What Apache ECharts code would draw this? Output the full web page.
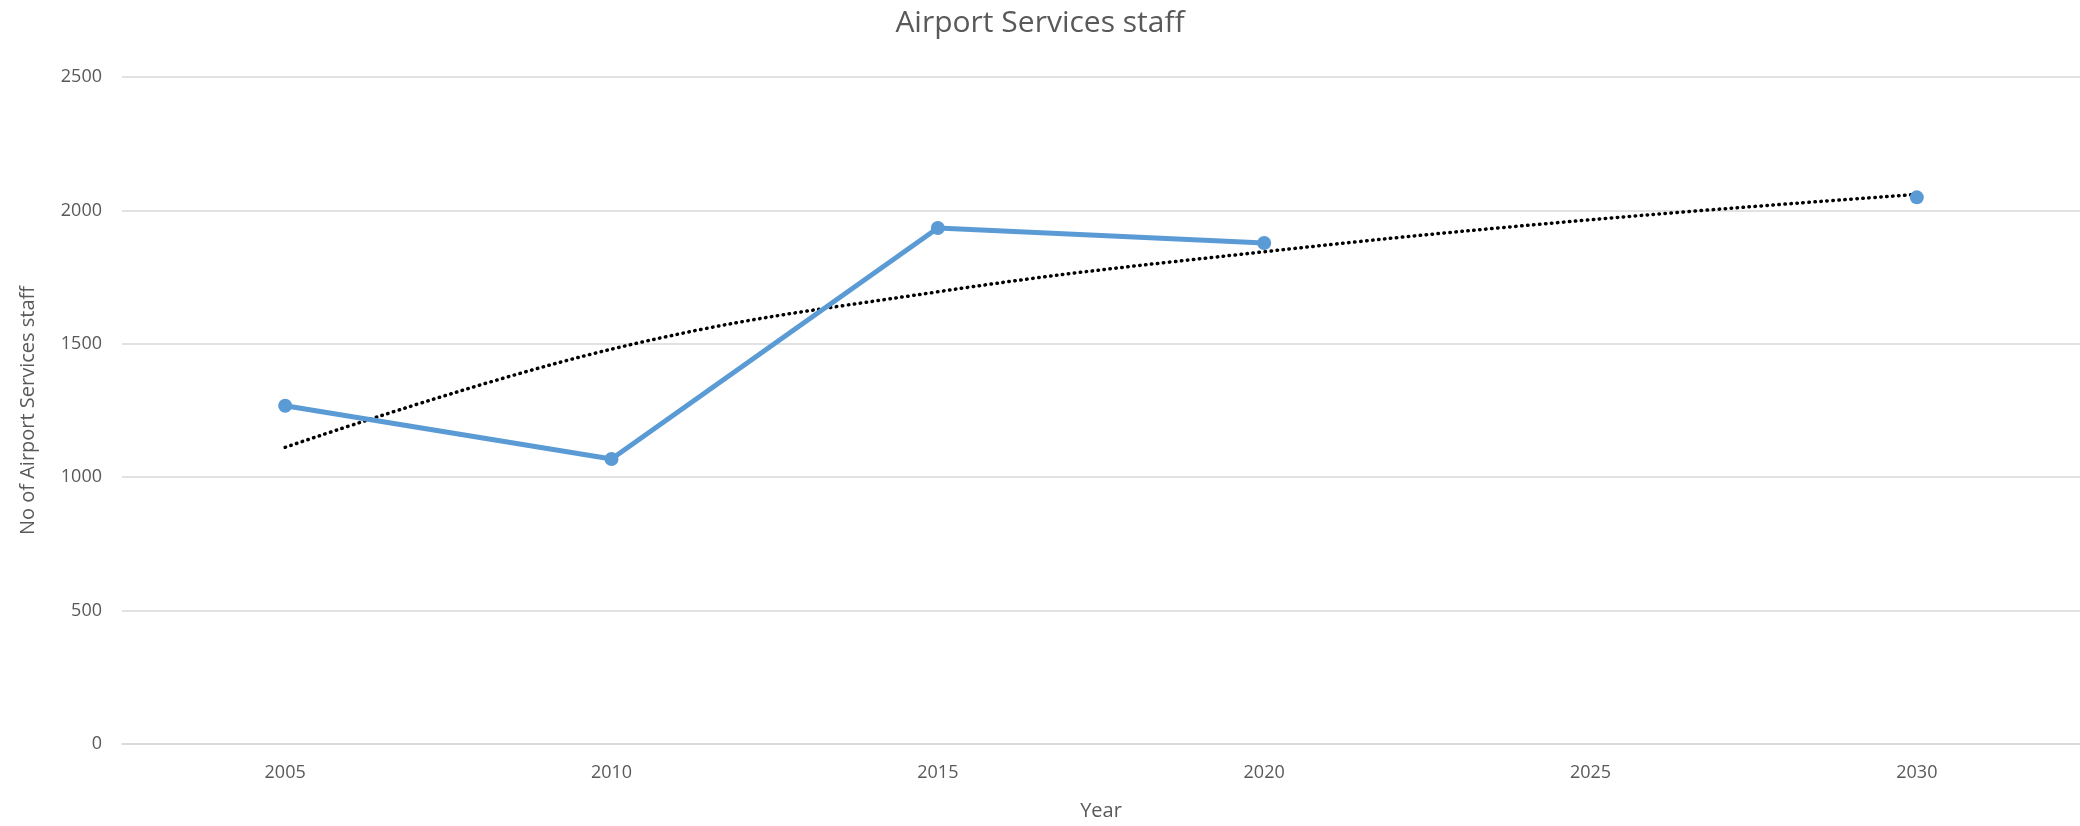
<!DOCTYPE html>
<html>
<head>
<meta charset="utf-8">
<script src="https://cdn.jsdelivr.net/npm/echarts@6/dist/echarts.min.js"></script>
<style>
  html, body { margin: 0; padding: 0; background: #fff; }
  #main { width: 2080px; height: 826px; }
</style>
</head>
<body>
<div id="main"></div>
<script>
var years = ['2005', '2010', '2015', '2020', '2025', '2030'];
// staff counts, 2025 has no value
var staff = [1268, 1068, 1934, 1878, null, 2049];
// dotted trend line (log trend)
var trend = [1112, 1480, 1695, 1845, 1965, 2060];
var yTicks = [0, 500, 1000, 1500, 2000, 2500];

var textColor = '#595959';
var gridColor = '#D9D9D9';
var font = '"Open Sans", sans-serif';

var myChart = echarts.init(document.getElementById('main'));
var option = {
	animation: false,
	backgroundColor: '#fff',
	title: {
		text: 'Airport Services staff',
		left: 'center',
		top: 3,
		textStyle: {
			color: textColor,
			fontSize: 30,
			fontWeight: 'normal',
			fontFamily: font
		}
	},
	grid: {
		left: 122,
		right: 0,
		top: 77,
		bottom: 82
	},
	xAxis: {
		type: 'category',
		data: years,
		boundaryGap: true,
		name: 'Year',
		nameLocation: 'middle',
		nameGap: 57,
		nameTextStyle: { color: textColor, fontSize: 20, fontFamily: font },
		axisLine: { lineStyle: { color: gridColor, width: 1.5 } },
		axisTick: { show: false },
		axisLabel: { color: textColor, fontSize: 18, fontFamily: font, margin: 20 }
	},
	yAxis: {
		type: 'value',
		min: yTicks[0],
		max: yTicks[yTicks.length - 1],
		interval: 500,
		name: 'No of Airport Services staff',
		nameLocation: 'middle',
		nameGap: 84,
		nameTextStyle: { color: textColor, fontSize: 20, fontFamily: font },
		axisLine: { show: false },
		axisTick: { show: false },
		axisLabel: {
			color: textColor, fontSize: 18, fontFamily: font, margin: 20,
			formatter: function (v) { return String(v); }
		},
		splitLine: { lineStyle: { color: gridColor, width: 1.5 } }
	},
	series: [{
		name: 'Staff',
		type: 'line',
		data: staff,
		connectNulls: false,
		symbol: 'circle',
		symbolSize: 14,
		showAllSymbol: true,
		itemStyle: { color: '#5B9BD5' },
		lineStyle: { color: '#5B9BD5', width: 5 },
		z: 3
	}, {
		name: 'Trend',
		type: 'line',
		data: trend,
		smooth: 0.4,
		symbol: 'none',
		lineStyle: {
			color: '#000',
			width: 3.5,
			type: [0.5, 5.5],
			cap: 'round'
		},
		z: 2
	}]
};
myChart.setOption(option);
</script>
</body>
</html>
